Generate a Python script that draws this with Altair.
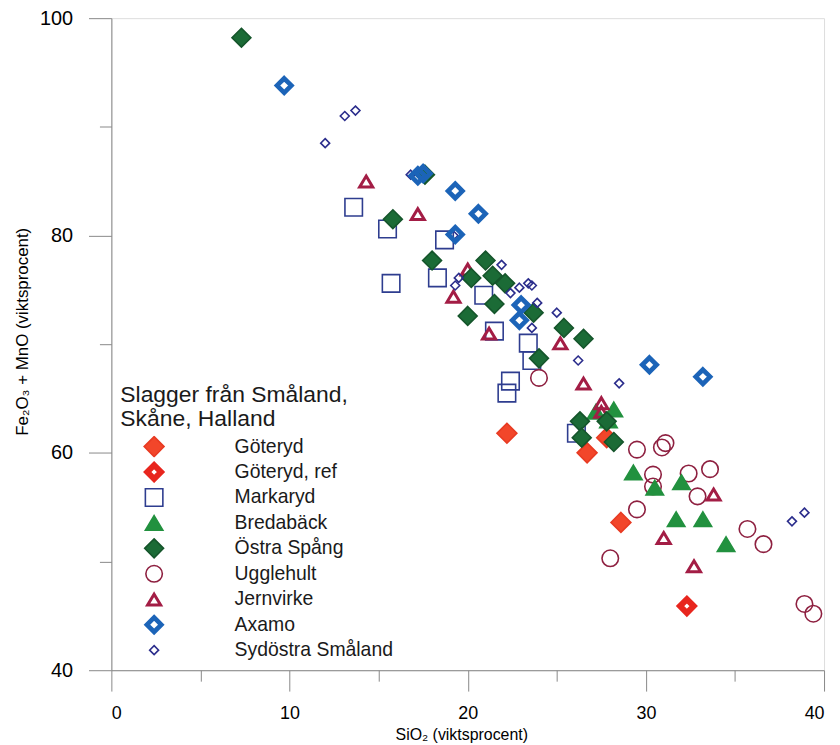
import altair as alt
import pandas as pd

# ---------------- data ----------------
groups = ["Göteryd", "Göteryd, ref", "Markaryd", "Bredabäck", "Östra Spång",
          "Ugglehult", "Jernvirke", "Axamo", "Sydöstra Småland"]

goteryd_x = [22.2, 26.7, 27.8, 28.6]
goteryd_y = [61.8, 60.0, 61.4, 53.6]

goteryd_ref_x = [32.3]
goteryd_ref_y = [45.9]

markaryd_x = [13.6, 15.5, 15.7, 18.7, 18.3, 20.9, 21.5, 23.4, 23.6, 22.4, 22.2, 26.1]
markaryd_y = [82.6, 80.6, 75.6, 79.6, 76.1, 74.5, 71.2, 70.1, 68.5, 66.6, 65.5, 61.8]

bredaback_x = [27.2, 28.2, 27.9, 29.3, 30.5, 32.0, 31.7, 33.2, 34.5]
bredaback_y = [63.8, 64.0, 63.0, 58.2, 56.8, 57.3, 53.9, 53.9, 51.6]

ostra_x = [7.3, 15.8, 17.6, 18.0, 21.0, 20.2, 21.4, 22.1, 21.5, 23.7, 20.0, 25.4,
           26.5, 24.0, 26.3, 26.4, 27.8, 28.2]
ostra_y = [98.2, 81.5, 85.6, 77.7, 77.7, 76.1, 76.3, 75.6, 73.7, 72.9, 72.6, 71.5,
           70.5, 68.7, 62.9, 61.4, 62.9, 61.0]

ugglehult_x = [24.0, 29.5, 30.9, 31.1, 30.4, 30.4, 32.4, 33.6, 32.9, 29.5, 35.7,
               36.6, 28.0, 38.9, 39.4]
ugglehult_y = [66.9, 60.3, 60.5, 60.9, 58.0, 56.9, 58.1, 58.5, 56.0, 54.8, 53.0,
               51.6, 50.3, 46.1, 45.2]

jernvirke_x = [14.3, 17.2, 20.0, 19.2, 21.2, 25.2, 26.5, 27.5, 27.5, 33.8, 31.0, 32.7]
jernvirke_y = [85.0, 82.0, 76.9, 74.4, 71.0, 70.1, 66.4, 64.6, 63.8, 56.2, 52.2, 49.6]

axamo_x = [9.7, 17.2, 17.5, 19.3, 20.6, 19.3, 23.0, 22.9, 30.2, 33.2]
axamo_y = [93.8, 85.5, 85.7, 84.1, 82.0, 80.1, 73.6, 72.2, 68.1, 67.0]

sydostra_x = [13.1, 13.7, 12.0, 16.8, 19.2, 21.9, 19.5, 19.3, 22.4, 22.9, 23.4, 23.6,
              23.9, 23.6, 25.0, 26.2, 28.5, 38.2, 38.9]
sydostra_y = [91.0, 91.5, 88.5, 85.6, 80.0, 77.3, 76.1, 75.4, 74.7, 75.2, 75.6, 75.4,
              73.8, 71.5, 72.9, 68.5, 66.4, 53.7, 54.5]

x_major = [0, 10, 20, 30, 40]
x_minor = [5, 15, 25, 35]
y_major = [40, 60, 80, 100]
y_minor = [50, 70, 90]

# ---------------- styles ----------------
shapes = [
    "M0,-1L1,0L0,1L-1,0Z",                                            # Göteryd filled diamond
    "M0,-1L1,0L0,1L-1,0ZM0,-0.38L-0.38,0L0,0.38L0.38,0Z",             # Göteryd ref thick ring
    "M-0.88,-0.88L0.88,-0.88L0.88,0.88L-0.88,0.88Z",                  # Markaryd square
    "M0,-0.74L0.88,0.74L-0.88,0.74Z",                                 # Bredabäck triangle
    "M0,-0.95L0.95,0L0,0.95L-0.95,0Z",                                # Östra Spång diamond
    "M0.83,0A0.83,0.83 0 1,1 -0.83,0A0.83,0.83 0 1,1 0.83,0Z",        # Ugglehult circle
    "M0,-0.65L0.78,0.65L-0.78,0.65ZM0,-0.375L-0.53,0.51L0.53,0.51Z",  # Jernvirke thick triangle
    "M0,-0.94L0.94,0L0,0.94L-0.94,0ZM0,-0.5L-0.5,0L0,0.5L0.5,0Z",     # Axamo thick ring
    "M0,-0.45L0.45,0L0,0.45L-0.45,0Z",                                # Sydöstra small diamond
]
fills = ["#f2462a", "#e8261e", "transparent", "#22913f", "#1b6b36",
         "transparent", "#a31d45", "#1c64b8", "transparent"]
strokes = ["#e83a22", "#e8261e", "#2e3d8f", "#22913f", "#15552b",
           "#8e2040", "#a31d45", "#1c64b8", "#2b2d8c"]

# drawing order (bottom to top)
draw_order = [
    ("Göteryd", goteryd_x, goteryd_y),
    ("Göteryd, ref", goteryd_ref_x, goteryd_ref_y),
    ("Markaryd", markaryd_x, markaryd_y),
    ("Ugglehult", ugglehult_x, ugglehult_y),
    ("Bredabäck", bredaback_x, bredaback_y),
    ("Jernvirke", jernvirke_x, jernvirke_y),
    ("Östra Spång", ostra_x, ostra_y),
    ("Sydöstra Småland", sydostra_x, sydostra_y),
    ("Axamo", axamo_x, axamo_y),
]
rows = []
for g, xs, ys in draw_order:
    for a, b in zip(xs, ys):
        rows.append({"group": g, "SiO2": a, "FeMn": b})
df = pd.DataFrame(rows)

FONT = "Liberation Sans"
AX = "#2a2a2a"

xscale = alt.Scale(domain=[0, 40], nice=False, zero=False)
yscale = alt.Scale(domain=[40, 100], nice=False, zero=False)

points = alt.Chart(df).mark_point(opacity=1, strokeWidth=1.6, size=400).encode(
    x=alt.X("SiO2:Q", scale=xscale,
            axis=alt.Axis(values=x_major, orient="bottom", tickSize=21, labelPadding=14,
                          labelFontSize=18, title="SiO₂ (viktsprocent)", titleFontSize=16,
                          titleFontWeight="normal", titleX=352, titleY=65,
                          titleBaseline="middle", titleAlign="center", grid=False)),
    y=alt.Y("FeMn:Q", scale=yscale,
            axis=alt.Axis(values=y_major, orient="left", tickSize=23, labelPadding=16,
                          labelFontSize=20, title="Fe₂O₃ + MnO (viktsprocent)",
                          titleFontSize=17, titleFontWeight="normal", titleX=-89,
                          titleY=315, titleAngle=270, titleAlign="center",
                          titleBaseline="middle", grid=False)),
    shape=alt.Shape("group:N", scale=alt.Scale(domain=groups, range=shapes),
                    legend=alt.Legend(
                        title=["Slagger från Småland,", "Skåne, Halland"],
                        orient="none", legendX=9, legendY=368, padding=0,
                        titleFontSize=23, titleFontWeight="normal", titleLineHeight=24,
                        titlePadding=5, titleColor="#1a1a1a", titleFont=FONT,
                        titleLimit=500, labelLimit=400,
                        labelFontSize=19.5, labelFont=FONT, labelColor="#1a1a1a",
                        symbolSize=400, symbolStrokeWidth=1.6, symbolOffset=23,
                        labelOffset=70, clipHeight=22, rowPadding=3.6)),
    fill=alt.Fill("group:N", scale=alt.Scale(domain=groups, range=fills)),
    stroke=alt.Stroke("group:N", scale=alt.Scale(domain=groups, range=strokes)),
)

minor = alt.Chart(df).mark_point(opacity=0).encode(
    x=alt.X("SiO2:Q", scale=xscale,
            axis=alt.Axis(values=x_minor, orient="bottom", tickSize=11, labels=False,
                          domain=False, title=None, grid=False)),
    y=alt.Y("FeMn:Q", scale=yscale,
            axis=alt.Axis(values=y_minor, orient="left", tickSize=12, labels=False,
                          domain=False, title=None, grid=False)),
)

chart = alt.layer(points, minor).resolve_axis(
    x="independent", y="independent"
).properties(
    width=717, height=656,
    padding={"left": 104, "top": 8, "right": 8, "bottom": 72},
    autosize=alt.AutoSizeParams(type="none"),
).configure_view(stroke=None).configure_axis(
    domainColor=AX, domainWidth=1.5, tickColor=AX, tickWidth=1.5,
    labelColor="#1a1a1a", titleColor="#1a1a1a", labelFont=FONT, titleFont=FONT,
).configure(background="white")

chart.save("out.html", embed_options={"renderer": "svg", "actions": False})
